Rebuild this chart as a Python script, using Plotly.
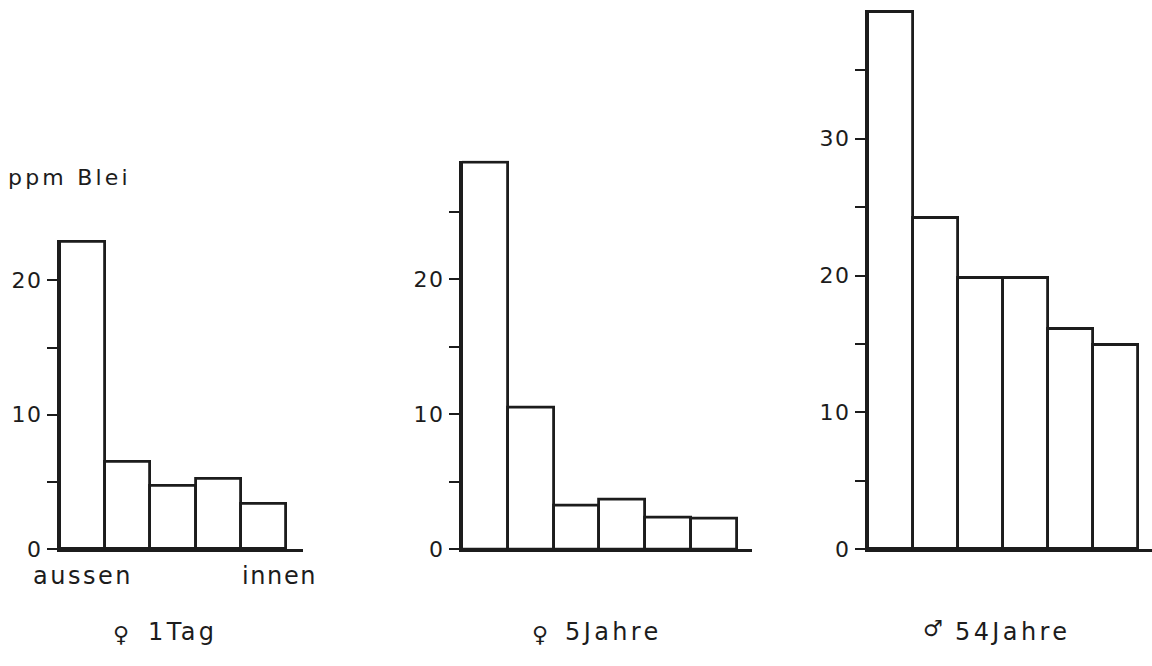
import plotly.graph_objects as go

# ---- data (ppm Blei, from outside to inside) ----
panel_labels = ["1Tag", "5Jahre", "54Jahre"]
sex_symbols = ["\u2640", "\u2640", "\u2642"]
vals_1tag = [22.9, 6.5, 4.7, 5.2, 3.4]
vals_5jahre = [28.7, 10.5, 3.2, 3.7, 2.35, 2.25]
vals_54jahre = [39.3, 24.2, 19.8, 19.8, 16.1, 14.9]
tickvals_1 = [0, 5, 10, 15, 20]
ticktext_1 = ["0", "", "10", "", "20"]
tickvals_2 = [0, 5, 10, 15, 20, 25]
ticktext_2 = ["0", "", "10", "", "20", ""]
tickvals_3 = [0, 5, 10, 15, 20, 25, 30, 35]
ticktext_3 = ["0", "", "10", "", "20", "", "30", ""]
y_title = "ppm Blei"
x_left_label = "aussen"
x_right_label = "innen"

W, H = 1152, 666
INK = "#1c1c1c"
FONT = "DejaVu Sans"


def spaced(t, ls):
    if not t:
        return t
    return f'<span style="letter-spacing:{ls}px">{t}</span>'


def px_x(p):
    return p / W


def px_y(p):
    return 1 - p / H


fig = go.Figure()

panels = [
    dict(vals=vals_1tag, tv=tickvals_1, tt=ticktext_1, x0=60, x1=303, bw=45.2, scale=13.7),
    dict(vals=vals_5jahre, tv=tickvals_2, tt=ticktext_2, x0=462, x1=752, bw=45.8, scale=13.75),
    dict(vals=vals_54jahre, tv=tickvals_3, tt=ticktext_3, x0=868, x1=1152, bw=45.0, scale=13.95),
]

zero_px = 560
layout = {}
for i, p in enumerate(panels, start=1):
    n = len(p["vals"])
    xs = [k + 0.5 for k in range(n)]
    xa = "x" if i == 1 else f"x{i}"
    ya = "y" if i == 1 else f"y{i}"
    fig.add_trace(go.Bar(
        x=xs, y=p["vals"], width=[1.0] * n,
        marker=dict(color="white", line=dict(color=INK, width=2.8)),
        xaxis=xa, yaxis=ya, showlegend=False, hoverinfo="y",
    ))
    vmax = max(p["vals"]) + 0.12
    top_px = zero_px - vmax * p["scale"]
    xrange_max = (p["x1"] - p["x0"]) / p["bw"]
    kx = "xaxis" if i == 1 else f"xaxis{i}"
    ky = "yaxis" if i == 1 else f"yaxis{i}"
    layout[kx] = dict(
        domain=[px_x(p["x0"]), px_x(p["x1"])], range=[0, xrange_max],
        showline=True, linewidth=3.2, linecolor=INK, showgrid=False,
        zeroline=False, showticklabels=False, ticks="", anchor=ya, fixedrange=True,
    )
    layout[ky] = dict(
        domain=[px_y(zero_px), px_y(top_px)], range=[0, vmax],
        showline=True, linewidth=3.2, linecolor=INK, showgrid=False,
        zeroline=False, tickmode="array", tickvals=p["tv"],
        ticktext=[spaced(t, 1.5) for t in p["tt"]],
        ticks="outside", ticklen=10, tickwidth=1.6, tickcolor=INK,
        tickfont=dict(family=FONT, size=22, color=INK), anchor=xa, fixedrange=True,
    )

fig.update_layout(**layout)

annots = []


def add_text(text, x, y, size, anchor="left", ls=0):
    annots.append(dict(
        text=spaced(text, ls) if ls else text, x=px_x(x), y=px_y(y),
        xref="paper", yref="paper",
        xanchor=anchor, yanchor="middle", showarrow=False,
        font=dict(family=FONT, size=size, color=INK),
    ))


add_text(y_title, 6, 181, 22, ls=3.2)
add_text(x_left_label, 31, 587, 24, ls=2.5)
add_text(x_right_label, 319, 587, 24, anchor="right", ls=1.6)

sym_x = [121, 540, 933]
sym_y = [647, 647, 641]
text_x = [146, 563, 953]
for s, sx, sy, lab, tx in zip(sex_symbols, sym_x, sym_y, panel_labels, text_x):
    add_text(s, sx, sy, 22, anchor="center")
    add_text(lab, tx, 645, 24, ls=3.4)

fig.update_layout(
    autosize=True, margin=dict(l=0, r=0, t=0, b=0),
    paper_bgcolor="white", plot_bgcolor="white",
    annotations=annots, bargap=0,
)

page_fix = (
    "var de=document.documentElement, b=document.body;"
    "de.style.margin='0';de.style.padding='0';de.style.overflow='hidden';"
    "b.style.margin='0';b.style.padding='0';b.style.overflow='hidden';"
)

fig.write_html(
    "out.html",
    config={"displayModeBar": False, "responsive": True},
    default_width="100vw",
    default_height="100vh",
    post_script=page_fix,
)
